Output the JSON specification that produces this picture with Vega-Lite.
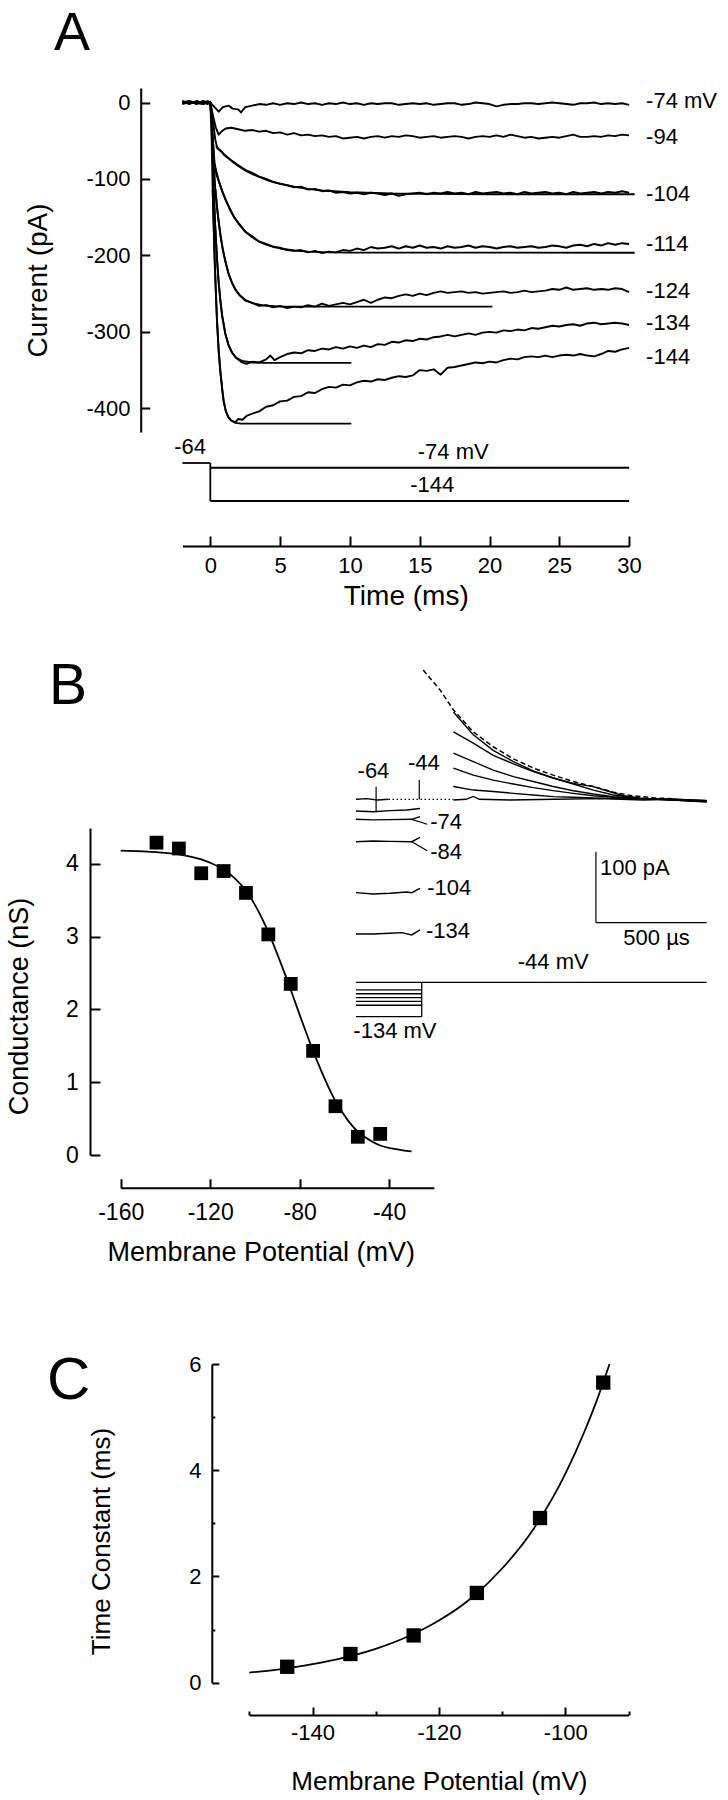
{
"$schema":"https://vega.github.io/schema/vega-lite/v6.json",
"width":728,"height":1800,"padding":0,"autosize":{"type":"none"},"background":"white",
"config":{"view":{"stroke":null},"font":"Liberation Sans",
"axis":{"grid":false,"domainColor":"black","domainWidth":2,"tickColor":"black","tickWidth":2,"labelColor":"black","titleColor":"black","labelFont":"Liberation Sans","titleFont":"Liberation Sans","titleFontWeight":"normal","labelFlush":false,"labelOverlap":false},
"text":{"font":"Liberation Sans","color":"black"}},
"datasets":{
"aTraces":[
{"s":"a","t":-2,"i":1},{"s":"a","t":-1.5,"i":-2},{"s":"a","t":-1,"i":2},{"s":"a","t":-0.5,"i":-1},{"s":"a","t":-0.2,"i":2},{"s":"a","t":0,"i":0},{"s":"a","t":0.3,"i":-6},{"s":"a","t":0.6,"i":-12},{"s":"a","t":0.9,"i":-6},{"s":"a","t":1.3,"i":-4},{"s":"a","t":1.6,"i":-8},{"s":"a","t":2,"i":-9},{"s":"a","t":2.2,"i":-13},{"s":"a","t":2.5,"i":-6},{"s":"a","t":3,"i":-4},{"s":"a","t":3.5,"i":-2},{"s":"a","t":4,"i":-3},{"s":"a","t":4.5,"i":-1},{"s":"a","t":5,"i":-3},{"s":"a","t":5.5,"i":-1},{"s":"a","t":6,"i":-2},{"s":"a","t":6.5,"i":0},{"s":"a","t":7,"i":-2},{"s":"a","t":7.5,"i":-1},{"s":"a","t":8,"i":-3},{"s":"a","t":8.5,"i":-1},{"s":"a","t":9,"i":-2},{"s":"a","t":9.5,"i":0},{"s":"a","t":10,"i":-2},{"s":"a","t":10.5,"i":-1},{"s":"a","t":11,"i":-3},{"s":"a","t":11.5,"i":-1},{"s":"a","t":12,"i":-2},{"s":"a","t":12.5,"i":-1},{"s":"a","t":13,"i":-1},{"s":"a","t":13.5,"i":-3},{"s":"a","t":14,"i":-2},{"s":"a","t":14.5,"i":-1},{"s":"a","t":15,"i":-2},{"s":"a","t":15.5,"i":-1},{"s":"a","t":16,"i":-3},{"s":"a","t":16.5,"i":-2},{"s":"a","t":17,"i":-1},{"s":"a","t":17.5,"i":-1},{"s":"a","t":18,"i":-3},{"s":"a","t":18.5,"i":-2},{"s":"a","t":19,"i":0},{"s":"a","t":19.5,"i":-1},{"s":"a","t":20,"i":-2},{"s":"a","t":20.5,"i":-5},{"s":"a","t":21,"i":-3},{"s":"a","t":21.5,"i":-2},{"s":"a","t":22,"i":-2},{"s":"a","t":22.5,"i":-1},{"s":"a","t":23,"i":-1},{"s":"a","t":23.5,"i":-2},{"s":"a","t":24,"i":-1},{"s":"a","t":24.5,"i":0},{"s":"a","t":25,"i":-1},{"s":"a","t":25.5,"i":-2},{"s":"a","t":26,"i":-3},{"s":"a","t":26.5,"i":-1},{"s":"a","t":27,"i":-1},{"s":"a","t":27.5,"i":0},{"s":"a","t":28,"i":-2},{"s":"a","t":28.5,"i":-1},{"s":"a","t":29,"i":-2},{"s":"a","t":29.5,"i":-1},{"s":"a","t":30,"i":-3},
{"s":"b","t":-2,"i":0},{"s":"b","t":-1.5,"i":2},{"s":"b","t":-1,"i":-1},{"s":"b","t":-0.5,"i":1},{"s":"b","t":-0.2,"i":-2},{"s":"b","t":0,"i":0},{"s":"b","t":0.2,"i":-18},{"s":"b","t":0.4,"i":-33},{"s":"b","t":0.6,"i":-42},{"s":"b","t":0.8,"i":-38},{"s":"b","t":1.1,"i":-34},{"s":"b","t":1.5,"i":-33},{"s":"b","t":2,"i":-35},{"s":"b","t":2.5,"i":-37},{"s":"b","t":3,"i":-36},{"s":"b","t":3.5,"i":-38},{"s":"b","t":4,"i":-37},{"s":"b","t":4.5,"i":-40},{"s":"b","t":5,"i":-39},{"s":"b","t":5.5,"i":-42},{"s":"b","t":6,"i":-40},{"s":"b","t":6.5,"i":-43},{"s":"b","t":7,"i":-42},{"s":"b","t":7.5,"i":-44},{"s":"b","t":8,"i":-43},{"s":"b","t":8.5,"i":-45},{"s":"b","t":9,"i":-44},{"s":"b","t":9.5,"i":-47},{"s":"b","t":10,"i":-46},{"s":"b","t":10.5,"i":-45},{"s":"b","t":11,"i":-47},{"s":"b","t":11.5,"i":-45},{"s":"b","t":12,"i":-44},{"s":"b","t":12.5,"i":-46},{"s":"b","t":13,"i":-44},{"s":"b","t":13.5,"i":-45},{"s":"b","t":14,"i":-43},{"s":"b","t":14.5,"i":-44},{"s":"b","t":15,"i":-46},{"s":"b","t":15.5,"i":-45},{"s":"b","t":16,"i":-44},{"s":"b","t":16.5,"i":-46},{"s":"b","t":17,"i":-45},{"s":"b","t":17.5,"i":-44},{"s":"b","t":18,"i":-45},{"s":"b","t":18.5,"i":-47},{"s":"b","t":19,"i":-45},{"s":"b","t":19.5,"i":-44},{"s":"b","t":20,"i":-45},{"s":"b","t":20.5,"i":-43},{"s":"b","t":21,"i":-45},{"s":"b","t":21.5,"i":-42},{"s":"b","t":22,"i":-44},{"s":"b","t":22.5,"i":-46},{"s":"b","t":23,"i":-45},{"s":"b","t":23.5,"i":-47},{"s":"b","t":24,"i":-46},{"s":"b","t":24.5,"i":-45},{"s":"b","t":25,"i":-46},{"s":"b","t":25.5,"i":-44},{"s":"b","t":26,"i":-42},{"s":"b","t":26.5,"i":-45},{"s":"b","t":27,"i":-45},{"s":"b","t":27.5,"i":-44},{"s":"b","t":28,"i":-45},{"s":"b","t":28.5,"i":-43},{"s":"b","t":29,"i":-44},{"s":"b","t":29.5,"i":-42},{"s":"b","t":30,"i":-43},
{"s":"c","t":-2,"i":-1},{"s":"c","t":-1.5,"i":1},{"s":"c","t":-1,"i":0},{"s":"c","t":-0.5,"i":-2},{"s":"c","t":-0.2,"i":1},{"s":"c","t":0,"i":0},{"s":"c","t":0.2,"i":-25},{"s":"c","t":0.35,"i":-48},{"s":"c","t":0.5,"i":-60},{"s":"c","t":0.8,"i":-64},{"s":"c","t":1,"i":-69},{"s":"c","t":1.3,"i":-73},{"s":"c","t":1.6,"i":-77},{"s":"c","t":2,"i":-82},{"s":"c","t":2.5,"i":-88},{"s":"c","t":3,"i":-92},{"s":"c","t":3.5,"i":-97},{"s":"c","t":4,"i":-100},{"s":"c","t":4.5,"i":-104},{"s":"c","t":5,"i":-106},{"s":"c","t":5.5,"i":-108},{"s":"c","t":6,"i":-111},{"s":"c","t":6.5,"i":-110},{"s":"c","t":7,"i":-114},{"s":"c","t":7.5,"i":-113},{"s":"c","t":8,"i":-116},{"s":"c","t":8.5,"i":-115},{"s":"c","t":9,"i":-118},{"s":"c","t":9.5,"i":-117},{"s":"c","t":10,"i":-119},{"s":"c","t":10.5,"i":-118},{"s":"c","t":11,"i":-120},{"s":"c","t":11.5,"i":-118},{"s":"c","t":12,"i":-119},{"s":"c","t":12.5,"i":-121},{"s":"c","t":13,"i":-119},{"s":"c","t":13.5,"i":-122},{"s":"c","t":14,"i":-120},{"s":"c","t":14.5,"i":-119},{"s":"c","t":15,"i":-118},{"s":"c","t":15.5,"i":-120},{"s":"c","t":16,"i":-118},{"s":"c","t":16.5,"i":-119},{"s":"c","t":17,"i":-117},{"s":"c","t":17.5,"i":-119},{"s":"c","t":18,"i":-118},{"s":"c","t":18.5,"i":-120},{"s":"c","t":19,"i":-117},{"s":"c","t":19.5,"i":-119},{"s":"c","t":20,"i":-118},{"s":"c","t":20.5,"i":-117},{"s":"c","t":21,"i":-119},{"s":"c","t":21.5,"i":-118},{"s":"c","t":22,"i":-120},{"s":"c","t":22.5,"i":-117},{"s":"c","t":23,"i":-119},{"s":"c","t":23.5,"i":-118},{"s":"c","t":24,"i":-117},{"s":"c","t":24.5,"i":-119},{"s":"c","t":25,"i":-118},{"s":"c","t":25.5,"i":-120},{"s":"c","t":26,"i":-117},{"s":"c","t":26.5,"i":-119},{"s":"c","t":27,"i":-118},{"s":"c","t":27.5,"i":-117},{"s":"c","t":28,"i":-119},{"s":"c","t":28.5,"i":-117},{"s":"c","t":29,"i":-118},{"s":"c","t":29.5,"i":-116},{"s":"c","t":30,"i":-118},
{"s":"cf","t":0.4,"i":-57},{"s":"cf","t":1,"i":-68},{"s":"cf","t":1.5,"i":-76},{"s":"cf","t":2,"i":-83},{"s":"cf","t":2.5,"i":-89},{"s":"cf","t":3,"i":-93.5},{"s":"cf","t":4,"i":-101},{"s":"cf","t":5,"i":-106.4},{"s":"cf","t":6,"i":-110.2},{"s":"cf","t":7,"i":-113},{"s":"cf","t":8,"i":-115},{"s":"cf","t":10,"i":-117.4},{"s":"cf","t":13,"i":-119},{"s":"cf","t":20,"i":-119.9},{"s":"cf","t":30.4,"i":-120},
{"s":"d","t":-2,"i":2},{"s":"d","t":-1.5,"i":-1},{"s":"d","t":-1,"i":1},{"s":"d","t":-0.5,"i":0},{"s":"d","t":-0.2,"i":-1},{"s":"d","t":0,"i":0},{"s":"d","t":0.15,"i":-40},{"s":"d","t":0.3,"i":-78},{"s":"d","t":0.45,"i":-95},{"s":"d","t":0.6,"i":-103},{"s":"d","t":0.85,"i":-116},{"s":"d","t":1.1,"i":-127},{"s":"d","t":1.4,"i":-139},{"s":"d","t":1.7,"i":-150},{"s":"d","t":2,"i":-157},{"s":"d","t":2.5,"i":-169},{"s":"d","t":3,"i":-175},{"s":"d","t":3.5,"i":-182},{"s":"d","t":4,"i":-185},{"s":"d","t":4.5,"i":-189},{"s":"d","t":5,"i":-190},{"s":"d","t":5.5,"i":-193},{"s":"d","t":6,"i":-194},{"s":"d","t":6.5,"i":-193},{"s":"d","t":7,"i":-196},{"s":"d","t":7.5,"i":-194},{"s":"d","t":8,"i":-197},{"s":"d","t":8.5,"i":-195},{"s":"d","t":9,"i":-196},{"s":"d","t":9.5,"i":-193},{"s":"d","t":10,"i":-194},{"s":"d","t":10.5,"i":-191},{"s":"d","t":11,"i":-193},{"s":"d","t":11.5,"i":-189},{"s":"d","t":12,"i":-191},{"s":"d","t":12.5,"i":-190},{"s":"d","t":13,"i":-188},{"s":"d","t":13.5,"i":-191},{"s":"d","t":14,"i":-188},{"s":"d","t":14.5,"i":-190},{"s":"d","t":15,"i":-187},{"s":"d","t":15.5,"i":-190},{"s":"d","t":16,"i":-189},{"s":"d","t":16.5,"i":-191},{"s":"d","t":17,"i":-188},{"s":"d","t":17.5,"i":-190},{"s":"d","t":18,"i":-189},{"s":"d","t":18.5,"i":-187},{"s":"d","t":19,"i":-190},{"s":"d","t":19.5,"i":-188},{"s":"d","t":20,"i":-189},{"s":"d","t":20.5,"i":-191},{"s":"d","t":21,"i":-189},{"s":"d","t":21.5,"i":-188},{"s":"d","t":22,"i":-190},{"s":"d","t":22.5,"i":-189},{"s":"d","t":23,"i":-188},{"s":"d","t":23.5,"i":-190},{"s":"d","t":24,"i":-189},{"s":"d","t":24.5,"i":-187},{"s":"d","t":25,"i":-188},{"s":"d","t":25.5,"i":-190},{"s":"d","t":26,"i":-187},{"s":"d","t":26.5,"i":-186},{"s":"d","t":27,"i":-188},{"s":"d","t":27.5,"i":-185},{"s":"d","t":28,"i":-187},{"s":"d","t":28.5,"i":-184},{"s":"d","t":29,"i":-186},{"s":"d","t":29.5,"i":-184},{"s":"d","t":30,"i":-185},
{"s":"df","t":0.35,"i":-85},{"s":"df","t":0.6,"i":-101.6},{"s":"df","t":0.85,"i":-115.8},{"s":"df","t":1.1,"i":-127.8},{"s":"df","t":1.4,"i":-139.9},{"s":"df","t":1.7,"i":-149.8},{"s":"df","t":2,"i":-158},{"s":"df","t":2.5,"i":-168.6},{"s":"df","t":3,"i":-176.3},{"s":"df","t":3.5,"i":-181.9},{"s":"df","t":4,"i":-185.9},{"s":"df","t":5,"i":-190.9},{"s":"df","t":6,"i":-193.6},{"s":"df","t":7,"i":-195},{"s":"df","t":8.5,"i":-196},{"s":"df","t":10,"i":-196.3},{"s":"df","t":30.4,"i":-196.5},
{"s":"e","t":-2,"i":-2},{"s":"e","t":-1.5,"i":1},{"s":"e","t":-1,"i":-1},{"s":"e","t":-0.5,"i":2},{"s":"e","t":-0.2,"i":0},{"s":"e","t":0,"i":0},{"s":"e","t":0.1,"i":-20},{"s":"e","t":0.2,"i":-55},{"s":"e","t":0.3,"i":-95},{"s":"e","t":0.36,"i":-114},{"s":"e","t":0.5,"i":-140},{"s":"e","t":0.6,"i":-156},{"s":"e","t":0.75,"i":-177},{"s":"e","t":0.9,"i":-193},{"s":"e","t":1.1,"i":-209},{"s":"e","t":1.3,"i":-224},{"s":"e","t":1.55,"i":-236},{"s":"e","t":1.8,"i":-245},{"s":"e","t":2.1,"i":-252},{"s":"e","t":2.5,"i":-259},{"s":"e","t":3,"i":-262},{"s":"e","t":3.5,"i":-266},{"s":"e","t":4,"i":-265},{"s":"e","t":4.5,"i":-268},{"s":"e","t":5,"i":-266},{"s":"e","t":5.5,"i":-269},{"s":"e","t":6,"i":-267},{"s":"e","t":6.5,"i":-268},{"s":"e","t":7,"i":-265},{"s":"e","t":7.5,"i":-267},{"s":"e","t":8,"i":-263},{"s":"e","t":8.5,"i":-266},{"s":"e","t":9,"i":-264},{"s":"e","t":9.5,"i":-262},{"s":"e","t":10,"i":-264},{"s":"e","t":10.5,"i":-261},{"s":"e","t":11,"i":-258},{"s":"e","t":11.5,"i":-262},{"s":"e","t":12,"i":-258},{"s":"e","t":12.5,"i":-255},{"s":"e","t":13,"i":-256},{"s":"e","t":13.5,"i":-253},{"s":"e","t":14,"i":-251},{"s":"e","t":14.5,"i":-253},{"s":"e","t":15,"i":-250},{"s":"e","t":15.5,"i":-252},{"s":"e","t":16,"i":-249},{"s":"e","t":16.5,"i":-247},{"s":"e","t":17,"i":-249},{"s":"e","t":17.5,"i":-248},{"s":"e","t":18,"i":-247},{"s":"e","t":18.5,"i":-249},{"s":"e","t":19,"i":-248},{"s":"e","t":19.5,"i":-250},{"s":"e","t":20,"i":-249},{"s":"e","t":20.5,"i":-248},{"s":"e","t":21,"i":-247},{"s":"e","t":21.5,"i":-249},{"s":"e","t":22,"i":-248},{"s":"e","t":22.5,"i":-246},{"s":"e","t":23,"i":-248},{"s":"e","t":23.5,"i":-247},{"s":"e","t":24,"i":-246},{"s":"e","t":24.5,"i":-244},{"s":"e","t":25,"i":-245},{"s":"e","t":25.5,"i":-242},{"s":"e","t":26,"i":-245},{"s":"e","t":26.5,"i":-244},{"s":"e","t":27,"i":-243},{"s":"e","t":27.5,"i":-245},{"s":"e","t":28,"i":-244},{"s":"e","t":28.5,"i":-245},{"s":"e","t":29,"i":-243},{"s":"e","t":29.5,"i":-244},{"s":"e","t":30,"i":-248},
{"s":"ef","t":0.36,"i":-114},{"s":"ef","t":0.5,"i":-140},{"s":"ef","t":0.6,"i":-156},{"s":"ef","t":0.75,"i":-176},{"s":"ef","t":0.9,"i":-192.5},{"s":"ef","t":1.1,"i":-210},{"s":"ef","t":1.3,"i":-223},{"s":"ef","t":1.55,"i":-235.6},{"s":"ef","t":1.8,"i":-244.5},{"s":"ef","t":2.1,"i":-252},{"s":"ef","t":2.5,"i":-258},{"s":"ef","t":3,"i":-262.5},{"s":"ef","t":3.7,"i":-265.2},{"s":"ef","t":5,"i":-267},{"s":"ef","t":20.2,"i":-267},
{"s":"f","t":-2,"i":1},{"s":"f","t":-1.5,"i":-1},{"s":"f","t":-1,"i":0},{"s":"f","t":-0.5,"i":-2},{"s":"f","t":-0.2,"i":1},{"s":"f","t":0,"i":0},{"s":"f","t":0.1,"i":-30},{"s":"f","t":0.2,"i":-95},{"s":"f","t":0.24,"i":-114},{"s":"f","t":0.35,"i":-162},{"s":"f","t":0.48,"i":-205},{"s":"f","t":0.6,"i":-236},{"s":"f","t":0.72,"i":-259},{"s":"f","t":0.85,"i":-279},{"s":"f","t":1.07,"i":-302},{"s":"f","t":1.3,"i":-317},{"s":"f","t":1.55,"i":-327},{"s":"f","t":1.85,"i":-334},{"s":"f","t":2.27,"i":-340},{"s":"f","t":2.6,"i":-342},{"s":"f","t":3,"i":-339},{"s":"f","t":3.5,"i":-340},{"s":"f","t":4,"i":-336},{"s":"f","t":4.3,"i":-331},{"s":"f","t":4.6,"i":-337},{"s":"f","t":5,"i":-333},{"s":"f","t":5.5,"i":-329},{"s":"f","t":6,"i":-327},{"s":"f","t":6.5,"i":-328},{"s":"f","t":7,"i":-324},{"s":"f","t":7.5,"i":-325},{"s":"f","t":8,"i":-322},{"s":"f","t":8.5,"i":-323},{"s":"f","t":9,"i":-320},{"s":"f","t":9.5,"i":-322},{"s":"f","t":10,"i":-319},{"s":"f","t":10.5,"i":-321},{"s":"f","t":11,"i":-318},{"s":"f","t":11.5,"i":-320},{"s":"f","t":12,"i":-316},{"s":"f","t":12.5,"i":-317},{"s":"f","t":13,"i":-313},{"s":"f","t":13.5,"i":-314},{"s":"f","t":14,"i":-311},{"s":"f","t":14.5,"i":-312},{"s":"f","t":15,"i":-309},{"s":"f","t":15.5,"i":-310},{"s":"f","t":16,"i":-307},{"s":"f","t":16.5,"i":-306},{"s":"f","t":17,"i":-304},{"s":"f","t":17.5,"i":-306},{"s":"f","t":18,"i":-304},{"s":"f","t":18.5,"i":-302},{"s":"f","t":19,"i":-304},{"s":"f","t":19.5,"i":-301},{"s":"f","t":20,"i":-300},{"s":"f","t":20.5,"i":-301},{"s":"f","t":21,"i":-298},{"s":"f","t":21.5,"i":-299},{"s":"f","t":22,"i":-297},{"s":"f","t":22.5,"i":-298},{"s":"f","t":23,"i":-295},{"s":"f","t":23.5,"i":-296},{"s":"f","t":24,"i":-294},{"s":"f","t":24.5,"i":-292},{"s":"f","t":25,"i":-293},{"s":"f","t":25.5,"i":-291},{"s":"f","t":26,"i":-290},{"s":"f","t":26.5,"i":-292},{"s":"f","t":27,"i":-289},{"s":"f","t":27.5,"i":-288},{"s":"f","t":28,"i":-290},{"s":"f","t":28.5,"i":-289},{"s":"f","t":29,"i":-288},{"s":"f","t":29.5,"i":-289},{"s":"f","t":30,"i":-291},
{"s":"ff","t":0.24,"i":-114},{"s":"ff","t":0.35,"i":-162},{"s":"ff","t":0.48,"i":-205},{"s":"ff","t":0.6,"i":-236},{"s":"ff","t":0.72,"i":-259},{"s":"ff","t":0.85,"i":-279},{"s":"ff","t":1.07,"i":-302},{"s":"ff","t":1.3,"i":-317},{"s":"ff","t":1.55,"i":-327},{"s":"ff","t":1.85,"i":-334},{"s":"ff","t":2.27,"i":-338},{"s":"ff","t":3,"i":-340},{"s":"ff","t":4,"i":-340.6},{"s":"ff","t":10.1,"i":-340.6},
{"s":"g","t":-2,"i":-1},{"s":"g","t":-1.5,"i":2},{"s":"g","t":-1,"i":-2},{"s":"g","t":-0.5,"i":1},{"s":"g","t":-0.2,"i":-1},{"s":"g","t":0,"i":0},{"s":"g","t":0.1,"i":-50},{"s":"g","t":0.17,"i":-114},{"s":"g","t":0.24,"i":-160},{"s":"g","t":0.31,"i":-205},{"s":"g","t":0.4,"i":-250},{"s":"g","t":0.48,"i":-286},{"s":"g","t":0.6,"i":-325},{"s":"g","t":0.72,"i":-352},{"s":"g","t":0.85,"i":-375},{"s":"g","t":0.95,"i":-390},{"s":"g","t":1.1,"i":-403},{"s":"g","t":1.3,"i":-412},{"s":"g","t":1.5,"i":-416},{"s":"g","t":1.8,"i":-418},{"s":"g","t":2,"i":-414},{"s":"g","t":2.3,"i":-415},{"s":"g","t":2.6,"i":-410},{"s":"g","t":3,"i":-407},{"s":"g","t":3.5,"i":-404},{"s":"g","t":4,"i":-398},{"s":"g","t":4.5,"i":-396},{"s":"g","t":5,"i":-391},{"s":"g","t":5.5,"i":-390},{"s":"g","t":6,"i":-385},{"s":"g","t":6.5,"i":-384},{"s":"g","t":7,"i":-379},{"s":"g","t":7.5,"i":-380},{"s":"g","t":8,"i":-375},{"s":"g","t":8.5,"i":-372},{"s":"g","t":9,"i":-373},{"s":"g","t":9.5,"i":-369},{"s":"g","t":10,"i":-370},{"s":"g","t":10.5,"i":-366},{"s":"g","t":11,"i":-364},{"s":"g","t":11.5,"i":-365},{"s":"g","t":12,"i":-362},{"s":"g","t":12.5,"i":-363},{"s":"g","t":13,"i":-360},{"s":"g","t":13.5,"i":-358},{"s":"g","t":14,"i":-359},{"s":"g","t":14.5,"i":-357},{"s":"g","t":15,"i":-350},{"s":"g","t":15.5,"i":-351},{"s":"g","t":16,"i":-349},{"s":"g","t":16.5,"i":-356},{"s":"g","t":17,"i":-347},{"s":"g","t":17.5,"i":-346},{"s":"g","t":18,"i":-344},{"s":"g","t":18.5,"i":-342},{"s":"g","t":19,"i":-340},{"s":"g","t":19.5,"i":-341},{"s":"g","t":20,"i":-339},{"s":"g","t":20.5,"i":-340},{"s":"g","t":21,"i":-337},{"s":"g","t":21.5,"i":-335},{"s":"g","t":22,"i":-336},{"s":"g","t":22.5,"i":-333},{"s":"g","t":23,"i":-332},{"s":"g","t":23.5,"i":-333},{"s":"g","t":24,"i":-331},{"s":"g","t":24.5,"i":-333},{"s":"g","t":25,"i":-331},{"s":"g","t":25.5,"i":-330},{"s":"g","t":26,"i":-331},{"s":"g","t":26.5,"i":-329},{"s":"g","t":27,"i":-331},{"s":"g","t":27.5,"i":-332},{"s":"g","t":28,"i":-329},{"s":"g","t":28.5,"i":-325},{"s":"g","t":29,"i":-326},{"s":"g","t":29.5,"i":-323},{"s":"g","t":30,"i":-321},
{"s":"gf","t":0.17,"i":-114},{"s":"gf","t":0.24,"i":-160},{"s":"gf","t":0.31,"i":-205},{"s":"gf","t":0.4,"i":-250},{"s":"gf","t":0.48,"i":-286},{"s":"gf","t":0.6,"i":-325},{"s":"gf","t":0.72,"i":-352},{"s":"gf","t":0.85,"i":-375},{"s":"gf","t":0.95,"i":-390},{"s":"gf","t":1.1,"i":-403},{"s":"gf","t":1.3,"i":-412},{"s":"gf","t":1.5,"i":-416},{"s":"gf","t":1.8,"i":-419},{"s":"gf","t":2.2,"i":-420},{"s":"gf","t":3,"i":-420},{"s":"gf","t":10.1,"i":-420}
],
"aLabels":[{"t":30,"i":2,"text":"-74 mV"},{"t":30,"i":-45,"text":"-94"},{"t":30,"i":-120,"text":"-104"},{"t":30,"i":-185,"text":"-114"},{"t":30,"i":-246,"text":"-124"},{"t":30,"i":-289,"text":"-134"},{"t":30,"i":-333,"text":"-144"}],
"aProto":[{"t1":-2,"t2":0,"v1":-64,"v2":-64},{"t1":0,"t2":0,"v1":-64,"v2":-144},{"t1":0,"t2":30,"v1":-74,"v2":-74},{"t1":0,"t2":30,"v1":-144,"v2":-144}],
"aProtoLabels":[{"t":-1.45,"v":-64,"text":"-64"},{"t":17.4,"v":-74,"text":"-74 mV"},{"t":15.9,"v":-144,"text":"-144"}],
"bPts":[{"v":-144,"g":4.29},{"v":-134,"g":4.21},{"v":-124,"g":3.87},{"v":-114,"g":3.9},{"v":-104,"g":3.6},{"v":-94,"g":3.03},{"v":-84,"g":2.35},{"v":-74,"g":1.43},{"v":-64,"g":0.67},{"v":-54,"g":0.25},{"v":-44,"g":0.29}],
"bFit":[{"v":-160,"g":4.18},{"v":-150,"g":4.17},{"v":-144,"g":4.16},{"v":-134,"g":4.13},{"v":-124,"g":4.06},{"v":-119,"g":4.0},{"v":-114,"g":3.92},{"v":-109,"g":3.8},{"v":-104,"g":3.63},{"v":-99,"g":3.38},{"v":-94,"g":3.06},{"v":-89,"g":2.68},{"v":-84,"g":2.27},{"v":-79,"g":1.84},{"v":-74,"g":1.43},{"v":-69,"g":1.06},{"v":-64,"g":0.74},{"v":-59,"g":0.5},{"v":-54,"g":0.32},{"v":-49,"g":0.21},{"v":-44,"g":0.13},{"v":-39,"g":0.09},{"v":-34,"g":0.065},{"v":-30,"g":0.05}],
"inset":[
{"s":"p44","t":-0.297,"i":0},{"s":"p44","t":-0.25,"i":1},{"s":"p44","t":-0.2,"i":-1},{"s":"p44","t":-0.15,"i":0},
{"s":"dot","t":-0.15,"i":0},{"s":"dot","t":0.143,"i":0},
{"s":"p64","t":-0.297,"i":-16.5},{"s":"p64","t":-0.219,"i":-17.5},{"s":"p64","t":-0.143,"i":-16},{"s":"p64","t":-0.068,"i":-15},{"s":"p64","t":-0.008,"i":-13},
{"s":"p74","t":-0.297,"i":-28.2},{"s":"p74","t":-0.219,"i":-29},{"s":"p74","t":-0.143,"i":-28.6},{"s":"p74","t":-0.045,"i":-28.2},{"s":"p74","t":-0.008,"i":-24.4},
{"s":"p84","t":-0.297,"i":-59.7},{"s":"p84","t":-0.219,"i":-58.7},{"s":"p84","t":-0.143,"i":-59.2},{"s":"p84","t":-0.045,"i":-59.7},{"s":"p84","t":-0.008,"i":-53.5},
{"s":"p104","t":-0.297,"i":-131.5},{"s":"p104","t":-0.219,"i":-133.4},{"s":"p104","t":-0.143,"i":-132.4},{"s":"p104","t":-0.068,"i":-130.5},{"s":"p104","t":-0.045,"i":-131.5},{"s":"p104","t":-0.008,"i":-125.4},
{"s":"p134","t":-0.297,"i":-189.7},{"s":"p134","t":-0.219,"i":-189.7},{"s":"p134","t":-0.143,"i":-188.7},{"s":"p134","t":-0.09,"i":-187.8},{"s":"p134","t":-0.045,"i":-191},{"s":"p134","t":-0.008,"i":-184},
{"s":"t1","t":0.143,"i":123},{"s":"t1","t":0.233,"i":91},{"s":"t1","t":0.323,"i":69},{"s":"t1","t":0.414,"i":53},{"s":"t1","t":0.504,"i":40},{"s":"t1","t":0.594,"i":30},{"s":"t1","t":0.685,"i":22.5},{"s":"t1","t":0.775,"i":17.8},{"s":"t1","t":0.836,"i":12},{"s":"t1","t":0.911,"i":5},{"s":"t1","t":0.986,"i":1.5},{"s":"t1","t":1.136,"i":-1},{"s":"t1","t":1.287,"i":-3},
{"s":"t2","t":0.143,"i":95},{"s":"t2","t":0.233,"i":79},{"s":"t2","t":0.323,"i":62},{"s":"t2","t":0.414,"i":50},{"s":"t2","t":0.504,"i":39},{"s":"t2","t":0.594,"i":30},{"s":"t2","t":0.685,"i":21.5},{"s":"t2","t":0.775,"i":13},{"s":"t2","t":0.866,"i":6},{"s":"t2","t":0.986,"i":1.4},{"s":"t2","t":1.136,"i":-1},{"s":"t2","t":1.287,"i":-4},
{"s":"t3","t":0.143,"i":65},{"s":"t3","t":0.233,"i":53},{"s":"t3","t":0.323,"i":41},{"s":"t3","t":0.414,"i":32},{"s":"t3","t":0.504,"i":25},{"s":"t3","t":0.594,"i":18},{"s":"t3","t":0.685,"i":12},{"s":"t3","t":0.775,"i":7.5},{"s":"t3","t":0.866,"i":3.8},{"s":"t3","t":0.986,"i":0.9},{"s":"t3","t":1.136,"i":-1},{"s":"t3","t":1.287,"i":-3},
{"s":"t4","t":0.143,"i":44},{"s":"t4","t":0.233,"i":34},{"s":"t4","t":0.323,"i":27},{"s":"t4","t":0.414,"i":21.5},{"s":"t4","t":0.504,"i":16.4},{"s":"t4","t":0.594,"i":12.2},{"s":"t4","t":0.685,"i":8.4},{"s":"t4","t":0.775,"i":5.1},{"s":"t4","t":0.866,"i":2.8},{"s":"t4","t":0.986,"i":0.9},{"s":"t4","t":1.136,"i":-0.5},{"s":"t4","t":1.287,"i":-2.5},
{"s":"t5","t":0.143,"i":18},{"s":"t5","t":0.233,"i":13},{"s":"t5","t":0.323,"i":11},{"s":"t5","t":0.414,"i":8.4},{"s":"t5","t":0.504,"i":6},{"s":"t5","t":0.594,"i":3.8},{"s":"t5","t":0.685,"i":2.8},{"s":"t5","t":0.775,"i":1.9},{"s":"t5","t":0.911,"i":1},{"s":"t5","t":1.136,"i":0},{"s":"t5","t":1.287,"i":-2},
{"s":"t6","t":0.143,"i":-1},{"s":"t6","t":0.2,"i":0},{"s":"t6","t":0.233,"i":4},{"s":"t6","t":0.26,"i":0},{"s":"t6","t":0.4,"i":-1},{"s":"t6","t":0.6,"i":0},{"s":"t6","t":0.8,"i":1},{"s":"t6","t":1.0,"i":-1},{"s":"t6","t":1.136,"i":0},{"s":"t6","t":1.287,"i":-1.5},
{"s":"fit","t":0.007,"i":182},{"s":"fit","t":0.045,"i":168},{"s":"fit","t":0.083,"i":154},{"s":"fit","t":0.143,"i":126},{"s":"fit","t":0.233,"i":95},{"s":"fit","t":0.323,"i":74},{"s":"fit","t":0.414,"i":57},{"s":"fit","t":0.504,"i":44},{"s":"fit","t":0.594,"i":34},{"s":"fit","t":0.685,"i":25},{"s":"fit","t":0.775,"i":18},{"s":"fit","t":0.866,"i":10},{"s":"fit","t":0.95,"i":5},{"s":"fit","t":1.05,"i":2},{"s":"fit","t":1.15,"i":0.5}
],
"insetRules":[{"t1":-0.206,"t2":-0.206,"i1":17.8,"i2":-17.5},{"t1":-0.011,"t2":-0.011,"i1":27.2,"i2":0},{"t1":-0.045,"t2":0.025,"i1":-28.2,"i2":-35.2},{"t1":-0.045,"t2":0.025,"i1":-59.7,"i2":-72.4},{"t1":0.787,"t2":0.787,"i1":-73.8,"i2":-173.8},{"t1":0.787,"t2":1.287,"i1":-173.8,"i2":-173.8}],
"insetLabels":[{"t":-0.218,"i":40,"text":"-64"},{"t":0.01,"i":50.7,"text":"-44"},{"t":0.11,"i":-32.4,"text":"-74"},{"t":0.11,"i":-73.8,"text":"-84"},{"t":0.124,"i":-125.4,"text":"-104"},{"t":0.119,"i":-185.5,"text":"-134"},{"t":0.963,"i":-96.3,"text":"100 pA"},{"t":1.061,"i":-195,"text":"500 µs"},{"t":0.594,"i":-229.6,"text":"-44 mV"},{"t":-0.121,"i":-326,"text":"-134 mV"}],
"insetProto":[{"t1":-0.297,"t2":1.287,"v1":-44,"v2":-44},{"t1":-0.297,"t2":0,"v1":-64,"v2":-64},{"t1":-0.297,"t2":0,"v1":-74,"v2":-74},{"t1":-0.297,"t2":0,"v1":-84,"v2":-84},{"t1":-0.297,"t2":0,"v1":-94,"v2":-94},{"t1":-0.297,"t2":0,"v1":-104,"v2":-104},{"t1":-0.297,"t2":0,"v1":-134,"v2":-134},{"t1":0,"t2":0,"v1":-44,"v2":-134}],
"cPts":[{"v":-144,"tau":0.3},{"v":-134,"tau":0.54},{"v":-124,"tau":0.89},{"v":-114,"tau":1.69},{"v":-104,"tau":3.1},{"v":-94,"tau":5.65}],
"cFit":[{"v":-150,"tau":0.19},{"v":-145,"tau":0.257},{"v":-140,"tau":0.348},{"v":-135,"tau":0.472},{"v":-130,"tau":0.638},{"v":-125,"tau":0.865},{"v":-120,"tau":1.17},{"v":-115,"tau":1.58},{"v":-110,"tau":2.15},{"v":-105,"tau":2.9},{"v":-100,"tau":3.93},{"v":-97,"tau":4.72},{"v":-95,"tau":5.32},{"v":-93,"tau":6.0}]
},
"resolve":{"scale":{"x":"independent","y":"independent"},"axis":{"x":"independent","y":"independent"}},
"layer":[
 {"data":{"name":"aTraces"},"mark":{"type":"line","color":"black","strokeWidth":1.9,"strokeJoin":"round"},
  "encoding":{
   "x":{"field":"t","type":"quantitative","scale":{"domain":[-2,30],"range":[182.4,629.1],"nice":false,"zero":false},
        "axis":{"orient":"bottom","offset":-1254,"values":[0,5,10,15,20,25,30],"title":"Time (ms)","tickSize":-10,"labelPadding":19.6,"labelFontSize":22,"titleFontSize":28,"titleY":58.5,"titleBaseline":"alphabetic","labelExpr":"datum.value"}},
   "y":{"field":"i","type":"quantitative","scale":{"domain":[-431,19],"range":[432,88],"nice":false,"zero":false},
        "axis":{"orient":"left","offset":-140.7,"values":[0,-100,-200,-300,-400],"title":"Current (pA)","tickSize":-9,"labelPadding":19.7,"labelFontSize":22,"titleFontSize":28,"titleX":-102.7,"titleY":280,"titleAngle":-90,"titleAlign":"center","titleBaseline":"middle","labelExpr":"datum.value"}},
   "detail":{"field":"s"}}},
 {"data":{"name":"aLabels"},"mark":{"type":"text","align":"left","baseline":"middle","dx":17,"fontSize":22},
  "encoding":{"x":{"field":"t","type":"quantitative","scale":{"domain":[-2,30],"range":[182.4,629.1],"nice":false,"zero":false},"axis":null},
   "y":{"field":"i","type":"quantitative","scale":{"domain":[-431,19],"range":[432,88],"nice":false,"zero":false},"axis":null},"text":{"field":"text"}}},
 {"data":{"values":[{"text":"A"}]},"mark":{"type":"text","align":"center","baseline":"alphabetic","fontSize":54},
  "encoding":{"x":{"datum":-9.9,"type":"quantitative","scale":{"domain":[-2,30],"range":[182.4,629.1],"nice":false,"zero":false},"axis":null},
   "y":{"datum":69,"type":"quantitative","scale":{"domain":[-431,19],"range":[432,88],"nice":false,"zero":false},"axis":null},"text":{"field":"text"}}},
 {"data":{"name":"aProto"},"mark":{"type":"rule","color":"black","strokeWidth":1.8},
  "encoding":{"x":{"field":"t1","type":"quantitative","scale":{"domain":[-2,30],"range":[182.4,629.1],"nice":false,"zero":false},"axis":null},"x2":{"field":"t2"},
   "y":{"field":"v1","type":"quantitative","scale":{"domain":[-144,-64],"range":[501,463],"nice":false,"zero":false},"axis":null},"y2":{"field":"v2"}}},
 {"data":{"name":"aProtoLabels"},"mark":{"type":"text","align":"center","baseline":"alphabetic","dy":-9,"fontSize":22},
  "encoding":{"x":{"field":"t","type":"quantitative","scale":{"domain":[-2,30],"range":[182.4,629.1],"nice":false,"zero":false},"axis":null},
   "y":{"field":"v","type":"quantitative","scale":{"domain":[-144,-64],"range":[501,463],"nice":false,"zero":false},"axis":null},"text":{"field":"text"}}},
 {"data":{"name":"bFit"},"mark":{"type":"line","color":"black","strokeWidth":1.8,"interpolate":"monotone"},
  "encoding":{
   "x":{"field":"v","type":"quantitative","scale":{"domain":[-160,-20],"range":[120.7,433.9],"nice":false,"zero":false},
        "axis":{"orient":"bottom","offset":-612.2,"values":[-160,-120,-80,-40],"title":"Membrane Potential (mV)","tickSize":-9,"labelPadding":22.6,"labelFontSize":23,"titleFontSize":27,"titleX":260.8,"titleY":73,"titleBaseline":"alphabetic","labelExpr":"datum.value"}},
   "y":{"field":"g","type":"quantitative","scale":{"domain":[0,4.49],"range":[1155,828.1],"nice":false,"zero":false},
        "axis":{"orient":"left","offset":-90,"values":[0,1,2,3,4],"title":"Conductance (nS)","tickSize":-10,"labelPadding":21.7,"labelFontSize":23,"titleFontSize":27,"titleX":-71,"titleY":1006,"titleAngle":-90,"titleAlign":"center","titleBaseline":"middle","labelExpr":"datum.value"}}}},
 {"data":{"name":"bPts"},"mark":{"type":"point","shape":"square","filled":true,"size":190,"color":"black","opacity":1},
  "encoding":{"x":{"field":"v","type":"quantitative","scale":{"domain":[-160,-20],"range":[120.7,433.9],"nice":false,"zero":false},"axis":null},
   "y":{"field":"g","type":"quantitative","scale":{"domain":[0,4.49],"range":[1155,828.1],"nice":false,"zero":false},"axis":null}}},
 {"data":{"values":[{"text":"B"}]},"mark":{"type":"text","align":"center","baseline":"alphabetic","fontSize":57},
  "encoding":{"x":{"datum":-183.6,"type":"quantitative","scale":{"domain":[-160,-20],"range":[120.7,433.9],"nice":false,"zero":false},"axis":null},
   "y":{"datum":6.195,"type":"quantitative","scale":{"domain":[0,4.49],"range":[1155,828.1],"nice":false,"zero":false},"axis":null},"text":{"field":"text"}}},
 {"data":{"name":"inset"},"transform":[{"filter":"datum.s !== 'fit' && datum.s !== 'dot'"}],"mark":{"type":"line","color":"black","strokeWidth":1.4},
  "encoding":{"x":{"field":"t","type":"quantitative","scale":{"domain":[-0.3,1.3],"range":[355.3,709.5],"nice":false,"zero":false},"axis":null},
   "y":{"field":"i","type":"quantitative","scale":{"domain":[-330,190],"range":[1033.6,664.4],"nice":false,"zero":false},"axis":null},
   "detail":{"field":"s"}}},
 {"data":{"name":"inset"},"transform":[{"filter":"datum.s === 'fit'"}],"mark":{"type":"line","color":"black","strokeWidth":1.5,"strokeDash":[5,3]},
  "encoding":{"x":{"field":"t","type":"quantitative","scale":{"domain":[-0.3,1.3],"range":[355.3,709.5],"nice":false,"zero":false},"axis":null},
   "y":{"field":"i","type":"quantitative","scale":{"domain":[-330,190],"range":[1033.6,664.4],"nice":false,"zero":false},"axis":null}}},
 {"data":{"name":"inset"},"transform":[{"filter":"datum.s === 'dot'"}],"mark":{"type":"line","color":"black","strokeWidth":1.2,"strokeDash":[1.5,2.5]},
  "encoding":{"x":{"field":"t","type":"quantitative","scale":{"domain":[-0.3,1.3],"range":[355.3,709.5],"nice":false,"zero":false},"axis":null},
   "y":{"field":"i","type":"quantitative","scale":{"domain":[-330,190],"range":[1033.6,664.4],"nice":false,"zero":false},"axis":null}}},
 {"data":{"name":"insetRules"},"mark":{"type":"rule","color":"black","strokeWidth":1.2},
  "encoding":{"x":{"field":"t1","type":"quantitative","scale":{"domain":[-0.3,1.3],"range":[355.3,709.5],"nice":false,"zero":false},"axis":null},"x2":{"field":"t2"},
   "y":{"field":"i1","type":"quantitative","scale":{"domain":[-330,190],"range":[1033.6,664.4],"nice":false,"zero":false},"axis":null},"y2":{"field":"i2"}}},
 {"data":{"name":"insetLabels"},"mark":{"type":"text","align":"center","baseline":"middle","fontSize":22},
  "encoding":{"x":{"field":"t","type":"quantitative","scale":{"domain":[-0.3,1.3],"range":[355.3,709.5],"nice":false,"zero":false},"axis":null},
   "y":{"field":"i","type":"quantitative","scale":{"domain":[-330,190],"range":[1033.6,664.4],"nice":false,"zero":false},"axis":null},"text":{"field":"text"}}},
 {"data":{"name":"insetProto"},"mark":{"type":"rule","color":"black","strokeWidth":1.3},
  "encoding":{"x":{"field":"t1","type":"quantitative","scale":{"domain":[-0.3,1.3],"range":[355.3,709.5],"nice":false,"zero":false},"axis":null},"x2":{"field":"t2"},
   "y":{"field":"v1","type":"quantitative","scale":{"domain":[-134,-44],"range":[1016.7,982.3],"nice":false,"zero":false},"axis":null},"y2":{"field":"v2"}}},
 {"data":{"name":"cPts"},"mark":{"type":"point","shape":"square","filled":true,"size":205,"color":"black","opacity":1},
  "encoding":{
   "x":{"field":"v","type":"quantitative","scale":{"domain":[-150,-90],"range":[249.3,628.5],"nice":false,"zero":false},
        "axis":{"orient":"bottom","offset":-85,"values":[-140,-120,-100],"title":"Membrane Potential (mV)","tickSize":-8,"labelPadding":15.6,"labelFontSize":22,"titleFontSize":26,"titleY":74.5,"titleBaseline":"alphabetic","labelExpr":"datum.value"}},
   "y":{"field":"tau","type":"quantitative","scale":{"domain":[0,6],"range":[1682.7,1364],"nice":false,"zero":false},
        "axis":{"orient":"left","offset":-211.8,"values":[0,2,4,6],"title":"Time Constant (ms)","tickSize":-7,"labelPadding":17.8,"labelFontSize":22,"titleFontSize":26,"titleX":-110.8,"titleY":1541,"titleAngle":-90,"titleAlign":"center","titleBaseline":"middle","labelExpr":"datum.value"}}}},
 {"data":{"values":[{"text":"C"}]},"mark":{"type":"text","align":"center","baseline":"alphabetic","fontSize":60},
  "encoding":{"x":{"datum":-178.6,"type":"quantitative","scale":{"domain":[-150,-90],"range":[249.3,628.5],"nice":false,"zero":false},"axis":null},
   "y":{"datum":5.34,"type":"quantitative","scale":{"domain":[0,6],"range":[1682.7,1364],"nice":false,"zero":false},"axis":null},"text":{"field":"text"}}},
 {"data":{"name":"cFit"},"mark":{"type":"line","color":"black","strokeWidth":1.8,"interpolate":"monotone"},
  "encoding":{
   "x":{"field":"v","type":"quantitative","scale":{"domain":[-150,-90],"range":[249.3,628.5],"nice":false,"zero":false},
        "axis":{"orient":"bottom","offset":-85,"values":[-150,-130,-110,-90],"title":null,"labels":false,"domain":false,"tickSize":-4}},
   "y":{"field":"tau","type":"quantitative","scale":{"domain":[0,6],"range":[1682.7,1364],"nice":false,"zero":false},
        "axis":{"orient":"left","offset":-211.8,"values":[1,3,5],"title":null,"labels":false,"domain":false,"tickSize":-3}}}}
]
}
